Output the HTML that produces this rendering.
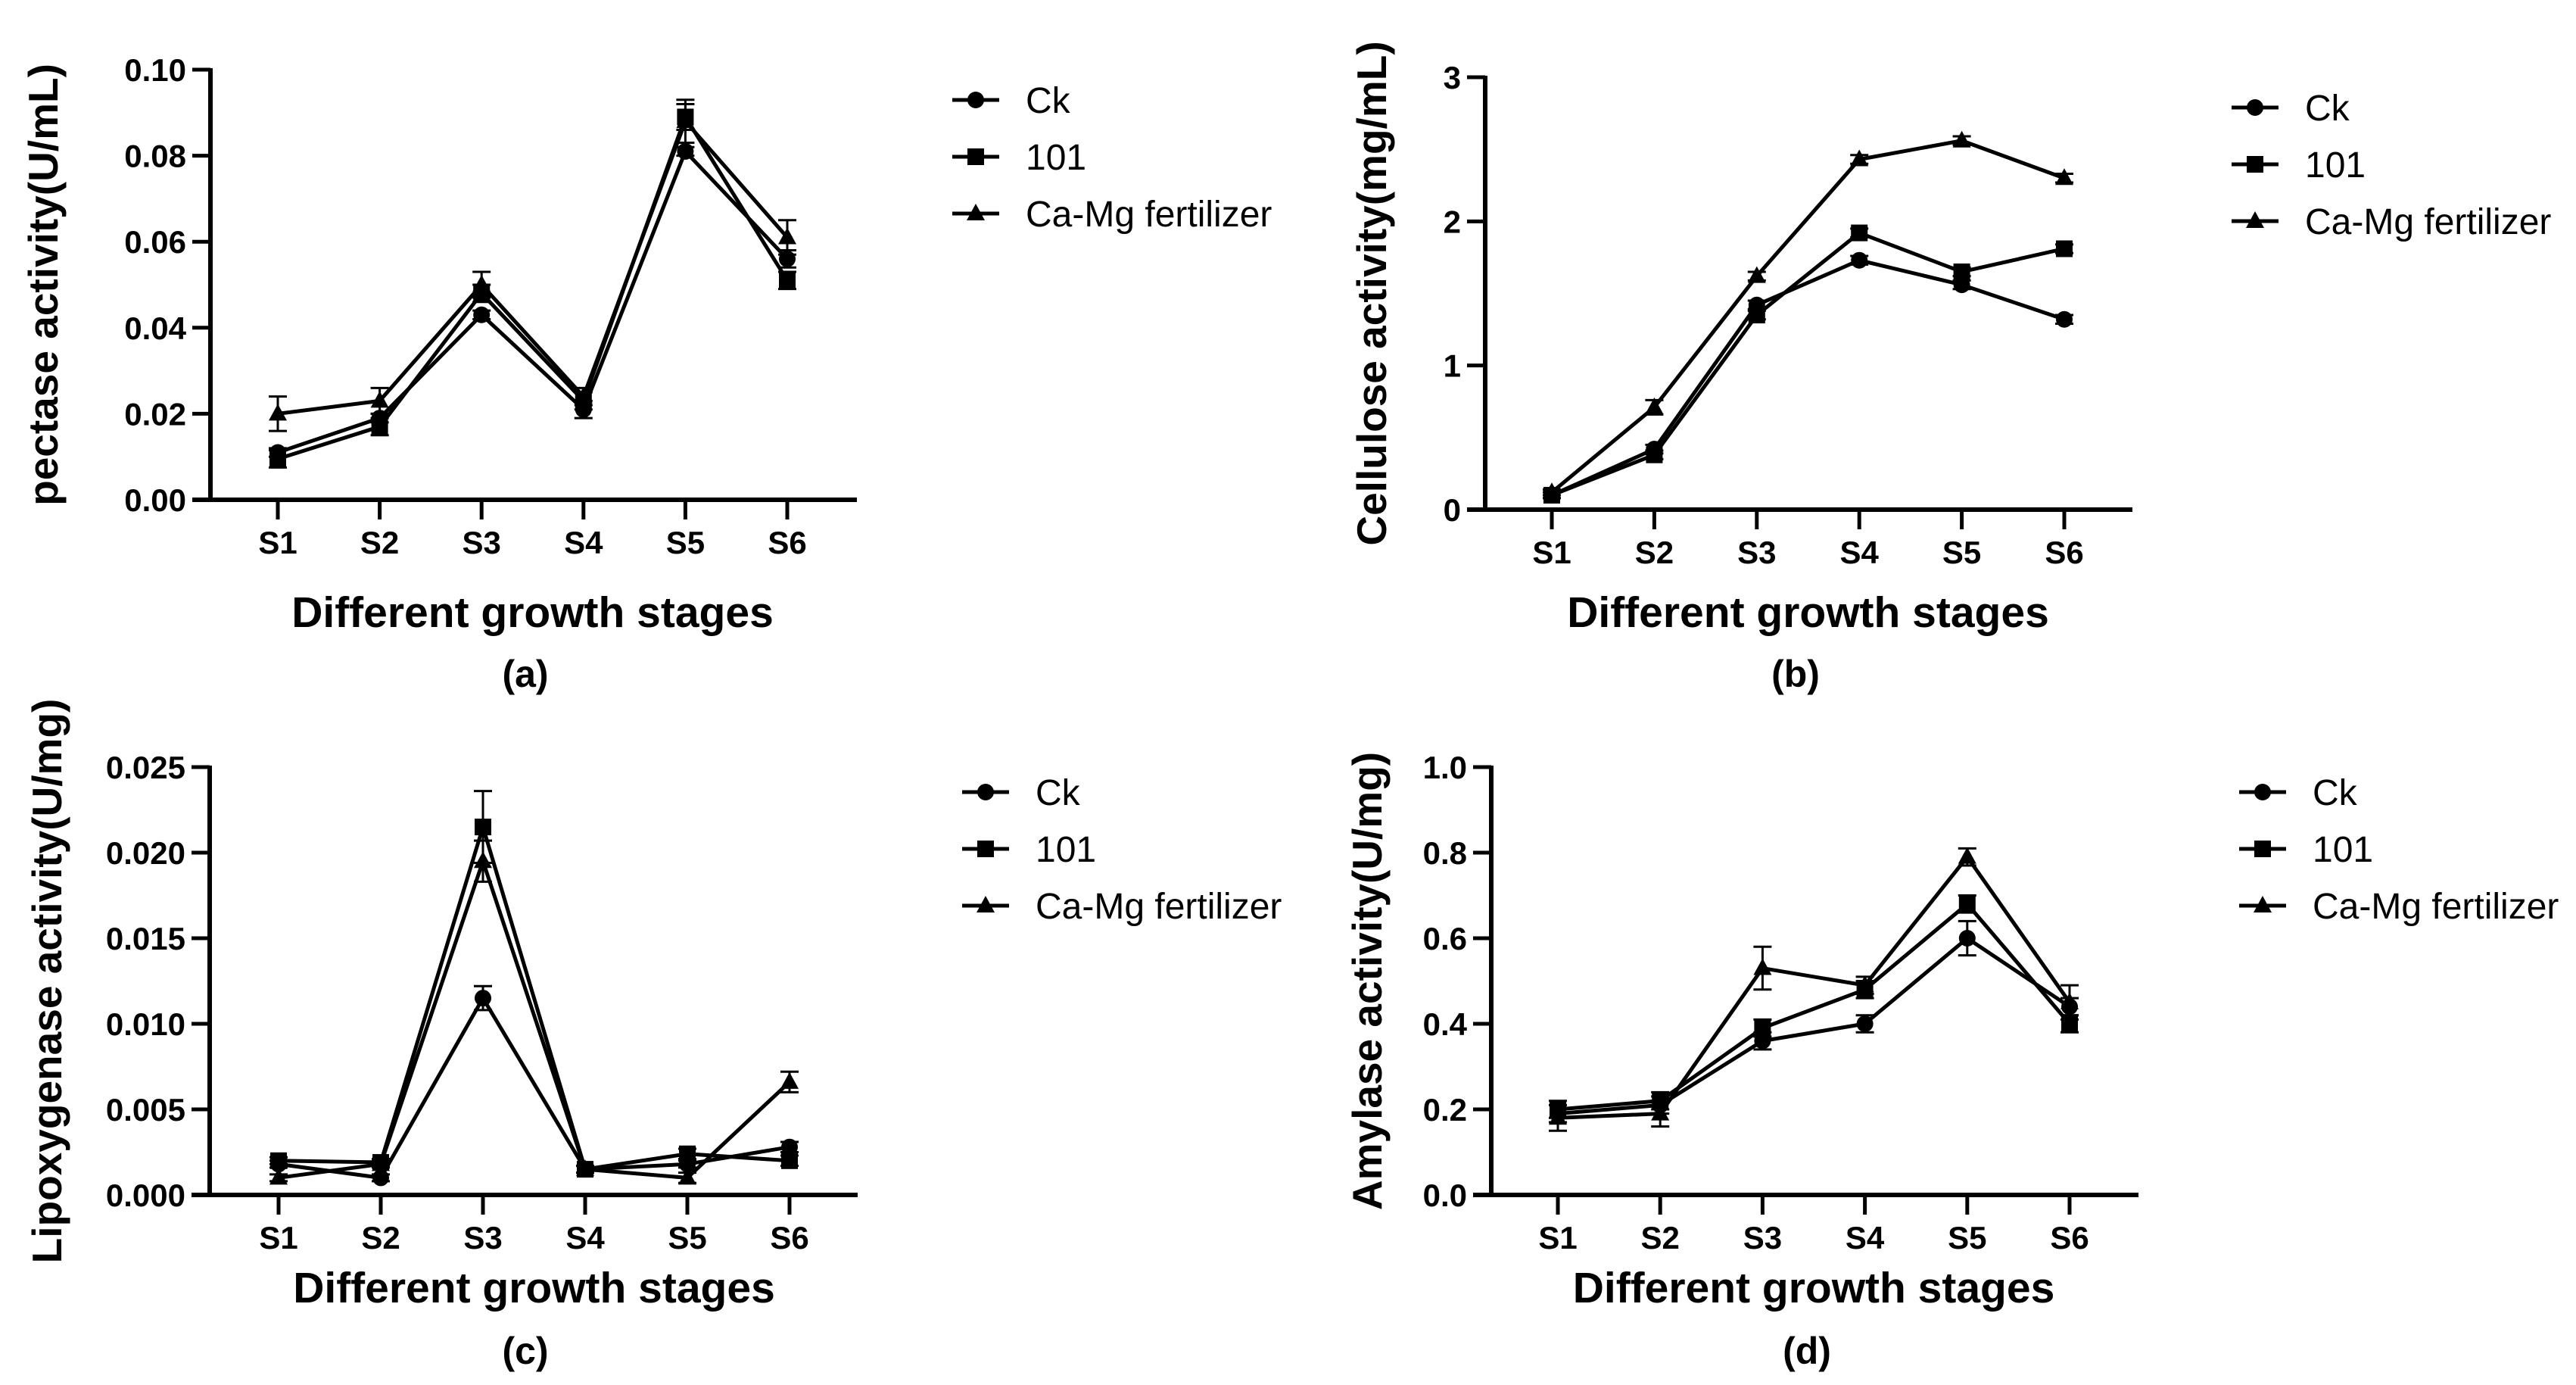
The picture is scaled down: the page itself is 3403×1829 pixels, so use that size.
<!DOCTYPE html>
<html><head><meta charset="utf-8"><style>
html,body{margin:0;padding:0;background:#fff;}
svg{display:block;font-family:"Liberation Sans",Arial,sans-serif;}
</style></head><body>
<svg id="fig" width="3403" height="1829" viewBox="0 0 3403 1829" xmlns="http://www.w3.org/2000/svg"></svg>
<script>
// ---- shared categories ----
const stages = ["S1","S2","S3","S4","S5","S6"];
const seriesNames = ["Ck","101","Ca-Mg fertilizer"];

// ---- panel (a) pectase ----
const aTicks = [0, 0.02, 0.04, 0.06, 0.08, 0.10];
const aTickLabels = ["0.00","0.02","0.04","0.06","0.08","0.10"];
const aCk = [0.011, 0.019, 0.043, 0.021, 0.081, 0.056];
const a101 = [0.0095, 0.017, 0.048, 0.023, 0.089, 0.051];
const aCaMg = [0.020, 0.023, 0.050, 0.024, 0.088, 0.061];
const aCkErr = [0.001, 0.001, 0.001, 0.002, 0.001, 0.002];
const a101Err = [0.002, 0.002, 0.002, 0.002, 0.003, 0.002];
const aCaMgErr = [0.004, 0.003, 0.003, 0.002, 0.005, 0.004];

// ---- panel (b) cellulose ----
const bTicks = [0, 1, 2, 3];
const bTickLabels = ["0","1","2","3"];
const bCk = [0.10, 0.42, 1.42, 1.73, 1.56, 1.32];
const b101 = [0.10, 0.38, 1.35, 1.92, 1.65, 1.81];
const bCaMg = [0.12, 0.71, 1.62, 2.43, 2.56, 2.30];
const bCkErr = [0.02, 0.03, 0.03, 0.03, 0.03, 0.03];
const b101Err = [0.02, 0.03, 0.03, 0.03, 0.03, 0.03];
const bCaMgErr = [0.02, 0.05, 0.03, 0.03, 0.03, 0.03];

// ---- panel (c) lipoxygenase ----
const cTicks = [0, 0.005, 0.010, 0.015, 0.020, 0.025];
const cTickLabels = ["0.000","0.005","0.010","0.015","0.020","0.025"];
const cCk = [0.0018, 0.0010, 0.0115, 0.0015, 0.0018, 0.0028];
const c101 = [0.0020, 0.0019, 0.0215, 0.0015, 0.0024, 0.0020];
const cCaMg = [0.0010, 0.0018, 0.0195, 0.0015, 0.0010, 0.0066];
const cCkErr = [0.0002, 0.0002, 0.0007, 0.0002, 0.0002, 0.0003];
const c101Err = [0.0002, 0.0002, 0.0021, 0.0002, 0.0003, 0.0003];
const cCaMgErr = [0.0002, 0.0002, 0.0012, 0.0002, 0.0003, 0.0006];

// ---- panel (d) amylase ----
const dTicks = [0, 0.2, 0.4, 0.6, 0.8, 1.0];
const dTickLabels = ["0.0","0.2","0.4","0.6","0.8","1.0"];
const dCk = [0.19, 0.21, 0.36, 0.40, 0.60, 0.44];
const d101 = [0.20, 0.22, 0.39, 0.48, 0.68, 0.40];
const dCaMg = [0.18, 0.19, 0.53, 0.49, 0.79, 0.45];
const dCkErr = [0.02, 0.02, 0.02, 0.02, 0.04, 0.02];
const d101Err = [0.02, 0.02, 0.02, 0.02, 0.02, 0.02];
const dCaMgErr = [0.03, 0.03, 0.05, 0.02, 0.02, 0.04];

const NS = "http://www.w3.org/2000/svg";
const svg = document.getElementById("fig");
function mk(tag, attrs, parent){
  const e = document.createElementNS(NS, tag);
  for (const k in attrs) e.setAttribute(k, attrs[k]);
  (parent||svg).appendChild(e);
  return e;
}

const panels = [
  {id:"a", yTitle:"pectase activity(U/mL)", letter:"(a)", ticks:aTicks, tickLabels:aTickLabels, max:0.10,
   series:[aCk,a101,aCaMg], errs:[aCkErr,a101Err,aCaMgErr],
   ax:278, y0:660, yTop:92, x1:367, step:134.6, axEnd:1132, titleX:57, legX:1258, legY:132, capX:694, capY:890, xtY:808},
  {id:"b", yTitle:"Cellulose activity(mg/mL)", letter:"(b)", ticks:bTicks, tickLabels:bTickLabels, max:3,
   series:[bCk,b101,bCaMg], errs:[bCkErr,b101Err,bCaMgErr],
   ax:1962, y0:673, yTop:102, x1:2050, step:135.4, axEnd:2817, titleX:1812, legX:2948, legY:142, capX:2372, capY:890, xtY:808},
  {id:"c", yTitle:"Lipoxygenase activity(U/mg)", letter:"(c)", ticks:cTicks, tickLabels:cTickLabels, max:0.025,
   series:[cCk,c101,cCaMg], errs:[cCkErr,c101Err,cCaMgErr],
   ax:277, y0:1578, yTop:1013, x1:368, step:135, axEnd:1133, titleX:62, legX:1271, legY:1046, capX:694, capY:1784, xtY:1700},
  {id:"d", yTitle:"Amylase activity(U/mg)", letter:"(d)", ticks:dTicks, tickLabels:dTickLabels, max:1.0,
   series:[dCk,d101,dCaMg], errs:[dCkErr,d101Err,dCaMgErr],
   ax:1970, y0:1578, yTop:1013, x1:2058, step:135.2, axEnd:2825, titleX:1806, legX:2958, legY:1046, capX:2387, capY:1784, xtY:1700}
];

function marker(kind, cx, cy, g){
  let m;
  if (kind===0) m = mk("circle",{cx:cx,cy:cy,r:11,fill:"#000"},g);
  else if (kind===1) m = mk("rect",{x:cx-11,y:cy-11,width:22,height:22,fill:"#000"},g);
  else m = mk("polygon",{points:`${cx},${cy-13} ${cx+12},${cy+9} ${cx-12},${cy+9}`,fill:"#000"},g);
  return m;
}

panels.forEach(p=>{
  const g = mk("g",{});
  
  
  const yS = v => p.y0 - (v/p.max)*(p.y0-p.yTop);
  const xS = i => p.x1 + i*p.step;

  const ya = mk("line",{x1:p.ax,y1:p.yTop-2,x2:p.ax,y2:p.y0,stroke:"#000","stroke-width":6},g);
  
  
  p.ticks.forEach((t,i)=>{
    const y = yS(t);
    mk("line",{x1:p.ax-24,y1:y,x2:p.ax,y2:y,stroke:"#000","stroke-width":5},g);
    const tl = mk("text",{x:p.ax-32,y:y+15,"text-anchor":"end","font-size":42,"font-weight":"bold"},g);
    tl.textContent = p.tickLabels[i];
    
    
  });
  const xa = mk("line",{x1:p.ax-24,y1:p.y0,x2:p.axEnd,y2:p.y0,stroke:"#000","stroke-width":6},g);
  
  
  stages.forEach((s,i)=>{
    const x = xS(i);
    mk("line",{x1:x,y1:p.y0,x2:x,y2:p.y0+26,stroke:"#000","stroke-width":5},g);
    const tl = mk("text",{x:x,y:p.y0+71,"text-anchor":"middle","font-size":42,"font-weight":"bold"},g);
    tl.textContent = s;
    
    
  });
  const yt = mk("text",{x:0,y:0,"text-anchor":"middle","font-size":55,"font-weight":"bold",
    transform:`translate(${p.titleX+19},${(p.y0+p.yTop)/2}) rotate(-90)`},g);
  yt.textContent = p.yTitle;
  
  
  const xt = mk("text",{x:(xS(0)+xS(5))/2,y:p.xtY+20,"text-anchor":"middle","font-size":57,"font-weight":"bold"},g);
  xt.textContent = "Different growth stages";
  
  
  const cap = mk("text",{x:p.capX,y:p.capY+17,"text-anchor":"middle","font-size":50,"font-weight":"bold"},g);
  cap.textContent = p.letter;
  
  

  p.series.forEach((vals,si)=>{
    const sg = mk("g",{},g);
    
    
    const pts = vals.map((v,i)=>`${xS(i)},${yS(v)}`).join(" ");
    mk("polyline",{points:pts,fill:"none",stroke:"#000","stroke-width":5,"stroke-linejoin":"round"},sg);
    vals.forEach((v,i)=>{
      const e = p.errs[si][i];
      const x = xS(i), yh = yS(v+e), yl = yS(Math.max(0,v-e));
      mk("line",{x1:x,y1:yh,x2:x,y2:yl,stroke:"#000","stroke-width":3},sg);
      mk("line",{x1:x-12,y1:yh,x2:x+12,y2:yh,stroke:"#000","stroke-width":3},sg);
      mk("line",{x1:x-12,y1:yl,x2:x+12,y2:yl,stroke:"#000","stroke-width":3},sg);
      const m = marker(si, x, yS(v), sg);
      
      
    });
  });

  seriesNames.forEach((n,si)=>{
    const ly = p.legY + si*75;
    const lg = mk("g",{},g);
    
    
    mk("line",{x1:p.legX,y1:ly,x2:p.legX+62,y2:ly,stroke:"#000","stroke-width":5},lg);
    marker(si, p.legX+31, ly, lg);
    const t = mk("text",{x:p.legX+97,y:ly+17,"font-size":48},lg);
    t.textContent = n;
  });
});
</script>
</body></html>
